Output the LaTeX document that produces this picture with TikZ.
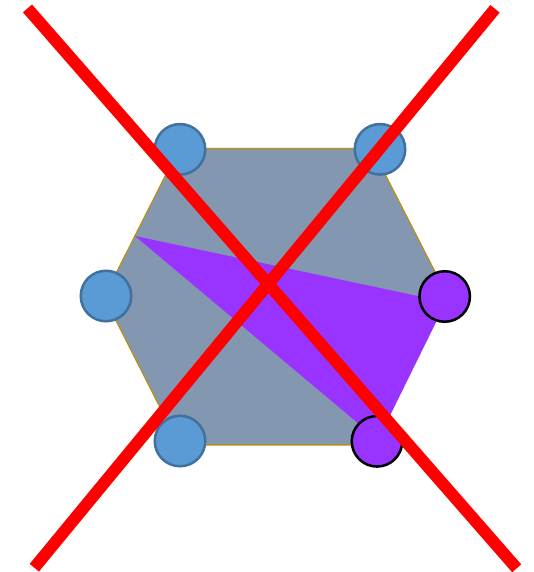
\documentclass[tikz,border=0pt]{standalone}
\usepackage{tikz}
\definecolor{hexfill}{HTML}{8497B0}
\definecolor{hexedge}{HTML}{BF9000}
\definecolor{bluefill}{HTML}{5B9BD5}
\definecolor{blueedge}{HTML}{41719C}
\definecolor{purp}{HTML}{9933FF}
\definecolor{xred}{HTML}{FF0000}
\begin{document}
\begin{tikzpicture}[x=0.75pt,y=-0.75pt,
  bluedot/.style={circle,fill=bluefill,draw=blueedge,line width=1.9pt,minimum size=50.5*0.75pt,inner sep=0pt},
  purpdot/.style={circle,fill=purp,draw=black,line width=1.9pt,minimum size=50.5*0.75pt,inner sep=0pt},
  crossline/.style={draw=xred,line width=9pt}]
\useasboundingbox (0,0) rectangle (533,572);
% hexagon
\fill[hexfill,draw=hexedge,line width=0.8pt] (179,148.5) -- (372,148.5) -- (448,297) -- (372,445) -- (179,445) -- (104,297) -- cycle;
% purple wedge
\fill[purp] (135,236) -- (446,302) -- (378,440) -- cycle;
% circles
\node[bluedot] (tl) at (180,149.3) {};
\node[bluedot] (tr) at (380,149.3) {};
\node[bluedot] (l) at (106,296) {};
\node[bluedot] (bl) at (180,441) {};
\node[purpdot] (r) at (444.7,296.5) {};
\node[purpdot] (br) at (377,441.3) {};
% cross
\coordinate (a1) at (27.5,8.4);
\coordinate (a2) at (516.7,568.3);
\coordinate (b1) at (495,8.8);
\coordinate (b2) at (34.3,567.7);
\draw[crossline] (a1) -- (a2);
\draw[crossline] (b1) -- (b2);
\end{tikzpicture}
\end{document}
